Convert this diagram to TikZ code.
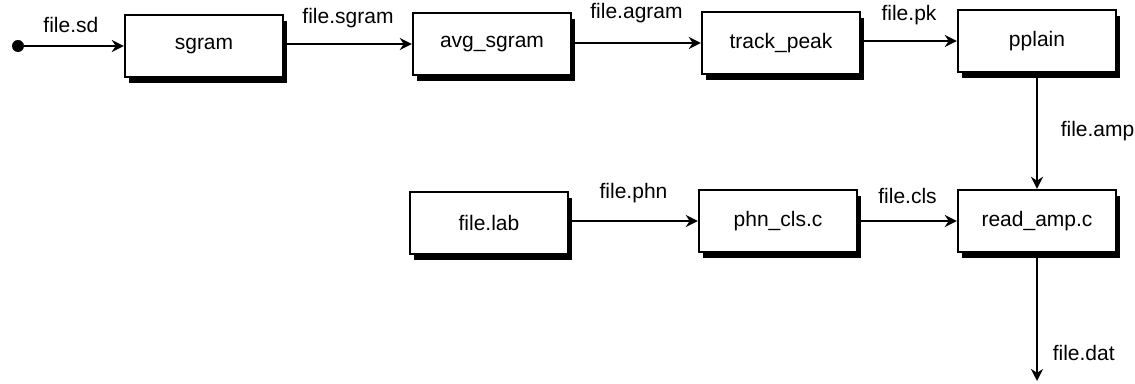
\documentclass[tikz,border=0pt]{standalone}
\usepackage{fontspec}
\setmainfont{Liberation Sans}
\usetikzlibrary{arrows.meta,shadows}

\begin{document}
\begin{tikzpicture}[x=0.5pt,y=-0.5pt,>={Stealth[length=6pt,width=6pt]},
	line width=1.1pt,font=\fontsize{10.5}{12}\selectfont,
	box/.style={draw,rectangle,fill=white,line width=1.2pt,minimum width=79pt,minimum height=31pt,
		drop shadow={shadow xshift=2pt,shadow yshift=-3pt,fill=black,opacity=1}}]
	
	\useasboundingbox (0,0) rectangle (1135,384);
	
	% felso sor
	\node[box] (sgram) at (204,46) {sgram};
	\node[box] (avgsgram) at (492,44) {avg\_sgram};
	\node[box] (trackpeak) at (781,43) {track\_peak};
	\node[box] (pplain) at (1037,41) {pplain};
	
	% also sor
	\node[box] (filelab) at (489,223) {file.lab};
	\node[box] (phncls) at (778,221) {phn\_cls.c};
	\node[box] (readamp) at (1037,221) {read\_amp.c};
	
	% szabad vegek
	\coordinate (start) at (18,46);
	\coordinate (dat) at (1037,381);
	\fill (start) circle (3pt);
	
	% nyilak
	\draw [->] (start) -- (sgram) node[midway,above=3pt]{file.sd};
	\draw [->] (sgram.east |- avgsgram) -- (avgsgram) node[midway,above=4pt]{file.sgram};
	\draw [->] (avgsgram.east |- trackpeak) -- (trackpeak) node[midway,above=6pt]{file.agram};
	\draw [->] (trackpeak.east |- pplain) -- (pplain) node[midway,above=4pt]{file.pk};
	\draw [->] (pplain) -- (readamp) node[midway,right=8pt]{file.amp};
	\draw [->] (filelab.east |- phncls) -- (phncls) node[midway,above=5pt]{file.phn};
	\draw [->] (phncls) -- (readamp) node[midway,above=5pt]{file.cls};
	\draw [->] (readamp) -- (dat) node[pos=0.78,right=4pt]{file.dat};
\end{tikzpicture}
\end{document}
